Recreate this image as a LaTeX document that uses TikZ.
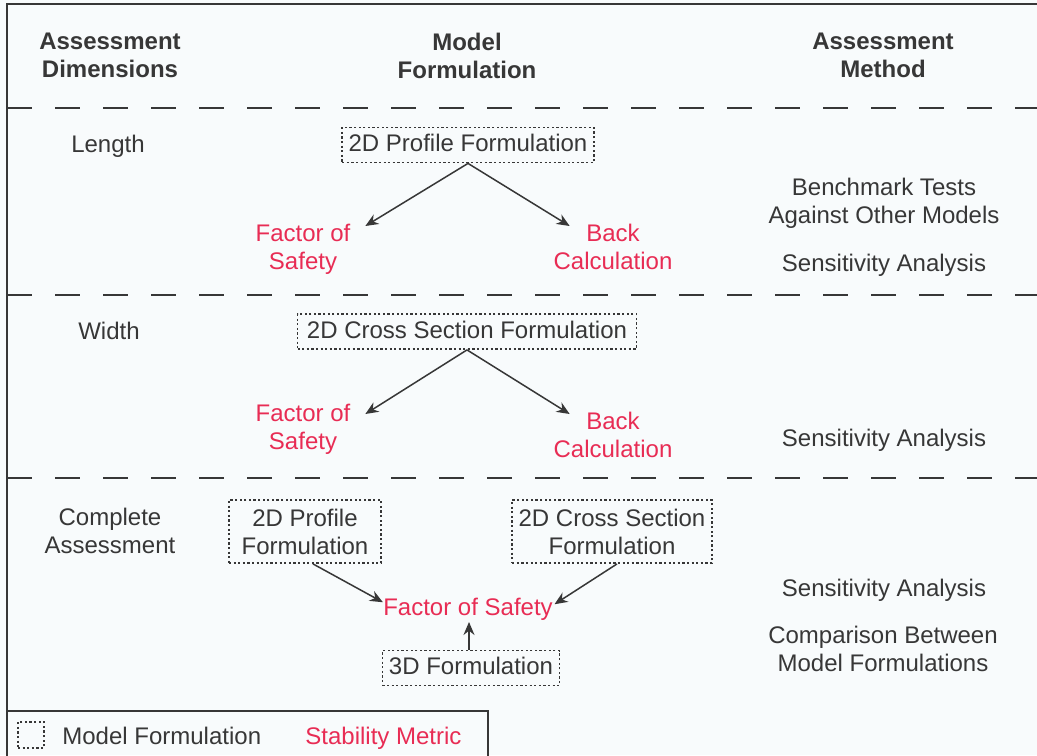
\documentclass[tikz,border=0pt]{standalone}
\usepackage{fontspec}
\setmainfont{Liberation Sans}
\usetikzlibrary{arrows.meta}
\definecolor{ink}{RGB}{55,55,55}
\definecolor{metric}{RGB}{232,44,84}
\definecolor{paper}{RGB}{248,251,252}

\begin{document}
\begin{tikzpicture}[x=0.5pt,y=-0.5pt,
  every node/.style={inner sep=0pt, text=ink, font=\fontsize{12}{14}\selectfont},
  hdr/.style={font=\fontsize{12}{14}\selectfont\bfseries, align=center, anchor=north},
  lbl/.style={align=center},
  metric/.style={text=metric, align=center},
  dotline/.style={draw=ink, line width=0.9pt, dash pattern=on 1.1pt off 1.2pt},
  formbox/.style={dotline, inner xsep=3.25pt,
    inner ysep=3pt, text height=9pt, text depth=2.5pt},
  formbox2/.style={dotline, inner xsep=3.25pt,
    inner ysep=4.35pt, align=center},
  sep/.style={draw=ink, line width=1.2pt, dash pattern=on 12.5pt off 11.5pt},
  frame/.style={draw=ink, line width=1pt},
  arr/.style={draw=ink, line width=0.75pt, -{Stealth[length=6.5pt,width=5.5pt]}}
]
\useasboundingbox (0,0) rectangle (1037,755);
\fill[paper] (0,0) rectangle (1037,755);

% outer frame, legend frame and row separators
\draw[frame] (7,760) -- (7,4) -- (1040,4);
\draw[frame] (7,711) -- (488,711) -- (488,760);
\draw[sep] (7,108) -- (1040,108);
\draw[sep] (7,295) -- (1040,295);
\draw[sep] (7,478) -- (1040,478);

% column headings
\node[hdr] (hd1) at (110,33) {Assessment\\Dimensions};
\node[hdr] (hd2) at (467,33) {Model\\Formulation};
\node[hdr] (hd3) at (883,33) {Assessment\\Method};

% row 1: length
\node[anchor=base] (len) at (108,152) {Length};
\node[formbox] (p1) at (468,145) {2D Profile Formulation};
\node[metric, anchor=north] (fs1) at (303,224) {Factor of\\Safety};
\node[metric, anchor=north] (bc1) at (613,224) {Back\\Calculation};
\node[lbl, anchor=north] (m1) at (884,178) {Benchmark Tests\\Against Other Models};
\node[anchor=base] (m2) at (884,271) {Sensitivity Analysis};
\draw[arr] (p1.south) -- ([xshift=7.3pt,yshift=-1pt]fs1.north east);
\draw[arr] (p1.south) -- ([xshift=8.2pt,yshift=-1pt]bc1.north west);

% row 2: width
\node[anchor=base] (wid) at (109,339) {Width};
\node[formbox, minimum width=169.5pt] (c2) at (467,331.5) {2D Cross Section Formulation};
\node[metric, anchor=north] (fs2) at (303,404) {Factor of\\Safety};
\node[metric, anchor=north] (bc2) at (613,412) {Back\\Calculation};
\node[anchor=base] (m3) at (884,446) {Sensitivity Analysis};
\draw[arr] (c2.south) -- ([xshift=7.3pt,yshift=-5pt]fs2.north east);
\draw[arr] (c2.south) -- ([xshift=8.2pt,yshift=-1pt]bc2.north west);

% row 3: complete assessment
\node[lbl, anchor=north] (cmp) at (110,508) {Complete\\Assessment};
\node[formbox2, minimum width=76pt] (p3) at (305,531.5) {2D Profile\\Formulation};
\node[formbox2] (c3) at (612,531.5) {2D Cross Section\\Formulation};
\node[metric, anchor=base] (fs3) at (468,615) {Factor of Safety};
\node[formbox] (th) at (471,668) {3D Formulation};
\node[anchor=base] (m4) at (884,596) {Sensitivity Analysis};
\node[lbl, anchor=north] (m5) at (883,626) {Comparison Between\\Model Formulations};
\draw[arr] ([xshift=4pt]p3.south) -- ([yshift=-2.5pt]fs3.north west);
\draw[arr] ([xshift=2.5pt]c3.south) -- ([xshift=0.7pt,yshift=-3.5pt]fs3.north east);
\draw[arr] ([xshift=-1pt]th.north) -- ([xshift=-1pt,yshift=-0.8pt]th.north |- fs3.south);

% legend
\node[dotline, minimum size=13pt] (lgbox) at (31,735) {};
\node[anchor=base west] (lgform) at (62,744) {Model Formulation};
\node[metric, anchor=base west] (lgmet) at (305,744) {Stability Metric};
\end{tikzpicture}
\end{document}
